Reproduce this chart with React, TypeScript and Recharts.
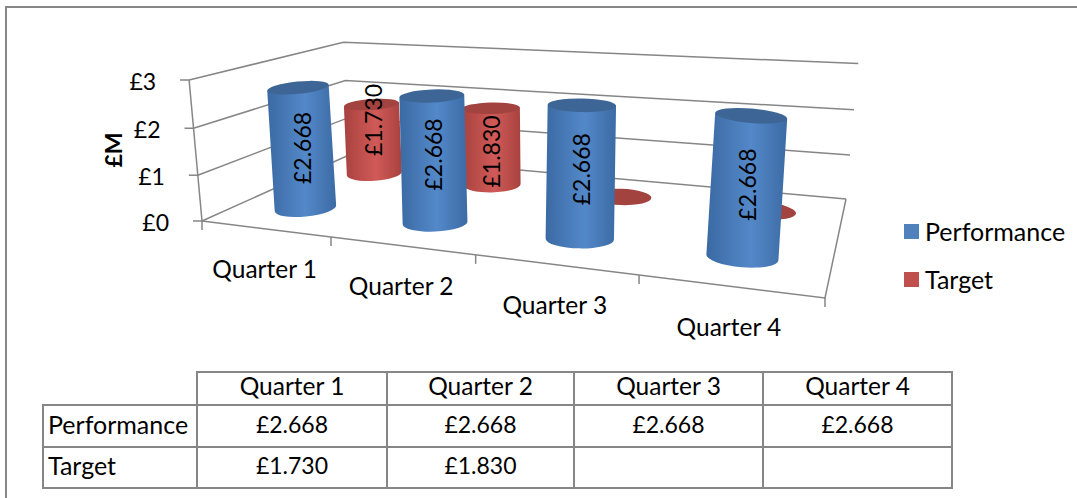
import React from "react";
import {
  BarChart,
  Bar,
  XAxis,
  YAxis,
  CartesianGrid,
  Legend,
  LabelList,
} from "recharts";

const quarters = ["Quarter 1", "Quarter 2", "Quarter 3", "Quarter 4"];
const performance = [2.668, 2.668, 2.668, 2.668];
const target = [1.73, 1.83, 0, 0];
const yTicks = [0, 1, 2, 3];
const legendOrder = ["Performance", "Target"];

const rows = quarters.map((quarter, i) => ({
  quarter,
  Performance: performance[i],
  Target: target[i],
}));

const money = (v: number) => `£${v.toFixed(3)}`;

const LINE = "#868686";
const FONT = "Lato, 'Open Sans', sans-serif";
const WORD_SIZE = 24.5;
const VALUE_SIZE = 23;

// Flat plot area the library lays out; everything is projected from here.
const PLOT = { left: 100, top: 40, width: 800, height: 300 };
const BAR_SIZE = 140;

// Floor corners on screen, front-left going round to back-left.
const floor = [
  [202, 221],
  [825, 298],
  [846, 199],
  [349, 155],
];
// Where the walls' vertical edges converge, and the wall's top-left corner y.
const VANISH = [525, 3754];
const WALL_TOP_Y = 80;

const [x0, y0] = floor[0];
const [x1, y1] = floor[1];
const [x2, y2] = floor[2];
const [x3, y3] = floor[3];
const den = (x1 - x2) * (y3 - y2) - (x3 - x2) * (y1 - y2);
const sx = x0 - x1 + x2 - x3;
const sy = y0 - y1 + y2 - y3;
const g = (sx * (y3 - y2) - (x3 - x2) * sy) / den;
const k = ((x1 - x2) * sy - sx * (y1 - y2)) / den;
const a = x1 - x0 + g * x1;
const b = x3 - x0 + k * x3;
const d = y1 - y0 + g * y1;
const e = y3 - y0 + k * y3;
const lift = (WALL_TOP_Y - y0) / (VANISH[1] - WALL_TOP_Y);

// u across the quarters, v into the depth, h up the wall (all 0..1)
function project(u: number, v: number, h: number) {
  const w = g * u + k * v + 1 + lift * h;
  return {
    x: (a * u + b * v + x0 + lift * h * VANISH[0]) / w,
    y: (d * u + e * v + y0 + lift * h * VANISH[1]) / w,
  };
}

const flatU = (x: number) => (x - PLOT.left) / PLOT.width;
const flatH = (y: number) => (PLOT.top + PLOT.height - y) / PLOT.height;

const DEPTH = { Performance: 0.25, Target: 0.76 };
const LABEL_LIFT = { Performance: [0, 5, 3, 2], Target: [19, -5, 0, 0] };

const pts = (list: { x: number; y: number }[]) =>
  list.map((p) => `${p.x},${p.y}`).join(" ");

function GridLine(props: any) {
  const h = flatH(props.y1);
  const isFloor = Math.abs(h) < 0.001;
  return (
    <g key={props.key} fill="none" stroke={LINE} strokeWidth={1.5}>
      <polyline points={pts([project(0, 0, h), project(0, 1, h), project(1, 1, h)])} />
      {isFloor && (
        <>
          <polyline points={pts([project(0, 0, 0), project(1, 0, 0), project(1, 1, 0)])} />
          <polyline points={pts([project(0, 0, 0), project(0, 0, 1)])} />
        </>
      )}
    </g>
  );
}

function YTick({ y, payload }: any) {
  const p = project(0, 0, flatH(y));
  return (
    <g>
      <line x1={p.x - 9} y1={p.y} x2={p.x} y2={p.y} stroke={LINE} strokeWidth={1.5} />
      <text x={p.x - 33} y={p.y + 1} textAnchor="end" dominantBaseline="central" fontSize={VALUE_SIZE} fill="#000">
        £{payload.value}
      </text>
    </g>
  );
}

function XTick({ x, payload, index }: any) {
  const u = flatU(x);
  const half = 1 / quarters.length / 2;
  const p = project(u, 0, 0);
  const ticks = index === 0 ? [u - half, u + half] : [u + half];
  return (
    <g>
      {ticks.map((t) => {
        const q = project(t, 0, 0);
        return <line key={t} x1={q.x} y1={q.y} x2={q.x} y2={q.y + 9} stroke={LINE} strokeWidth={1.5} />;
      })}
      <text x={p.x} y={p.y + 40} textAnchor="middle" dominantBaseline="central" fontSize={WORD_SIZE} fill="#000">
        {payload.value}
      </text>
    </g>
  );
}

function AxisTitle() {
  return (
    <text
      transform="translate(113,150) rotate(-90)"
      textAnchor="middle"
      dominantBaseline="central"
      fontSize={VALUE_SIZE}
      fontWeight={700}
      fill="#000"
    >
      £M
    </text>
  );
}

function Cylinder({ x, y, width, height, depth, body, cap }: any) {
  const cx = flatU(x + width / 2);
  const top = project(cx, depth, flatH(y));
  const base = project(cx, depth, flatH(y + height));
  // radius follows the local scale of the value axis at each end
  const unit = project(cx, depth, 0).y - project(cx, depth, 1 / yTicks.length).y;
  const rx = (width / 2 / (PLOT.height / yTicks.length)) * unit;
  const tilt = (base.x - 540) * 0.024;
  const rad = (tilt * Math.PI) / 180;
  const ryTop = rx * 0.2;
  const ryBase = rx * 0.27;
  const dx = rx * Math.cos(rad);
  const dy = rx * Math.sin(rad);
  return (
    <g>
      {height > 0 && (
        <path
          d={`M${top.x - dx},${top.y - dy} L${base.x - dx},${base.y - dy} A${rx},${ryBase} ${tilt} 0 0 ${base.x + dx},${base.y + dy} L${top.x + dx},${top.y + dy} Z`}
          fill={`url(#${body})`}
        />
      )}
      <ellipse
        cx={top.x}
        cy={top.y}
        rx={rx}
        ry={height > 0 ? ryTop : ryBase}
        fill={cap}
        transform={`rotate(${tilt} ${top.x} ${top.y})`}
      />
    </g>
  );
}

function ValueLabel(props: any, series: "Performance" | "Target") {
  const box = props.viewBox ?? props;
  const { x, y, width, height } = box;
  if (!props.value) return null;
  const cx = flatU(x + width / 2);
  const depth = DEPTH[series];
  const top = project(cx, depth, flatH(y));
  const base = project(cx, depth, flatH(y + height));
  const px = (top.x + base.x) / 2;
  const py = (top.y + base.y) / 2 - LABEL_LIFT[series][props.index];
  return (
    <text
      transform={`translate(${px},${py}) rotate(-90)`}
      textAnchor="middle"
      dominantBaseline="central"
      fontSize={VALUE_SIZE}
      fill="#000"
    >
      {money(props.value)}
    </text>
  );
}

function LegendList({ payload }: any) {
  const items = legendOrder.map((name) => (payload ?? []).find((p: any) => p.value === name)).filter(Boolean);
  return (
    <div style={{ position: "relative", whiteSpace: "nowrap", fontSize: 25, color: "#000" }}>
      {items.map((item: any, i: number) => (
        <div key={item.value} style={{ position: "absolute", left: 0, top: i * 48, height: 20, display: "flex", alignItems: "center" }}>
          <span style={{ display: "inline-block", width: 15, height: 15, background: item.color, marginRight: 6 }} />
          {item.value}
        </div>
      ))}
    </div>
  );
}

const cell: React.CSSProperties = {
  border: `2px solid ${LINE}`,
  textAlign: "center",
  padding: "0 0 4px",
  fontWeight: 400,
  lineHeight: 1,
};

function DataTable() {
  const series = [
    { name: "Performance", values: performance },
    { name: "Target", values: target },
  ];
  return (
    <table
      style={{
        position: "absolute",
        left: 42,
        top: 371,
        borderCollapse: "collapse",
        tableLayout: "fixed",
        width: 909,
        fontSize: VALUE_SIZE,
        color: "#000",
      }}
    >
      <colgroup>
        {[154, 190, 187, 189, 189].map((w, i) => (
          <col key={i} style={{ width: w }} />
        ))}
      </colgroup>
      <tbody>
        <tr style={{ height: 33 }}>
          <td style={{ ...cell, borderTop: "none", borderLeft: "none" }} />
          {quarters.map((q) => (
            <td key={q} style={{ ...cell, fontSize: WORD_SIZE }}>{q}</td>
          ))}
        </tr>
        {series.map((s, r) => (
          <tr key={s.name} style={{ height: r === 0 ? 42 : 41 }}>
            <td style={{ ...cell, fontSize: 25, textAlign: "left", paddingLeft: 4, whiteSpace: "nowrap" }}>{s.name}</td>
            {s.values.map((v, i) => (
              <td key={i} style={cell}>{v ? money(v) : ""}</td>
            ))}
          </tr>
        ))}
      </tbody>
    </table>
  );
}

export default function App() {
  return (
    <div
      style={{
        position: "absolute",
        left: 0,
        top: 0,
        width: 1077,
        height: 498,
        overflow: "hidden",
        background: "#fff",
        fontFamily: FONT,
      }}
    >
      <div style={{ position: "absolute", left: 5, top: 6, right: 0, bottom: 0, borderTop: `2px solid ${LINE}`, borderLeft: `2px solid ${LINE}` }} />
      <BarChart
        width={1077}
        height={498}
        data={rows}
        barSize={BAR_SIZE}
        barGap={-BAR_SIZE}
        margin={{ top: PLOT.top, left: 40, right: 177, bottom: 128 }}
        style={{ position: "absolute", left: 0, top: 0 }}
      >
        <defs>
          <linearGradient id="blueBody" x1="0" y1="0" x2="1" y2="0">
            <stop offset="0%" stopColor="#3b6aa3" />
            <stop offset="55%" stopColor="#5388c9" />
            <stop offset="100%" stopColor="#3c6ba4" />
          </linearGradient>
          <linearGradient id="redBody" x1="0" y1="0" x2="1" y2="0">
            <stop offset="0%" stopColor="#a8423f" />
            <stop offset="55%" stopColor="#d05a57" />
            <stop offset="100%" stopColor="#a8423f" />
          </linearGradient>
        </defs>
        <CartesianGrid vertical={false} horizontal={GridLine as any} />
        <XAxis dataKey="quarter" height={30} interval={0} axisLine={false} tickLine={false} tick={XTick as any} />
        <YAxis
          width={60}
          domain={[0, 3]}
          ticks={yTicks}
          axisLine={false}
          tickLine={false}
          tick={YTick as any}
          label={<AxisTitle />}
        />
        <Legend
          content={LegendList as any}
          wrapperStyle={{ position: "absolute", left: 904, top: 221, width: 0, height: 0 }}
        />
        <Bar
          dataKey="Target"
          fill="#C0504D"
          isAnimationActive={false}
          shape={(p: any) => <Cylinder {...p} depth={DEPTH.Target} body="redBody" cap="#a34340" />}
        >
          <LabelList dataKey="Target" content={(p: any) => ValueLabel(p, "Target")} />
        </Bar>
        <Bar
          dataKey="Performance"
          fill="#4F81BD"
          isAnimationActive={false}
          shape={(p: any) => <Cylinder {...p} depth={DEPTH.Performance} body="blueBody" cap="#3d6595" />}
        >
          <LabelList dataKey="Performance" content={(p: any) => ValueLabel(p, "Performance")} />
        </Bar>
      </BarChart>
      <DataTable />
    </div>
  );
}
